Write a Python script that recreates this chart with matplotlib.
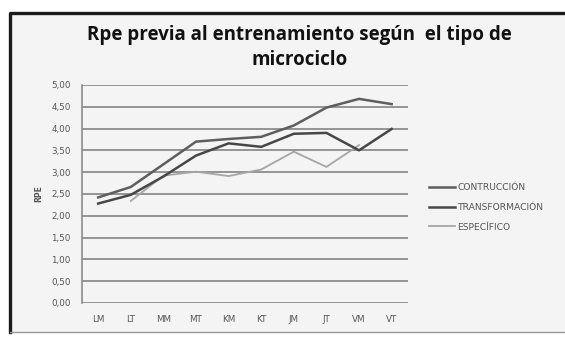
import matplotlib
matplotlib.use("Agg")
import matplotlib.pyplot as plt
from matplotlib.lines import Line2D
import numpy as np

# datos
categorias = ["LM", "LT", "MM", "MT", "KM", "KT", "JM", "JT", "VM", "VT"]
contruccion = [2.42, 2.66, 3.18, 3.70, 3.76, 3.81, 4.07, 4.48, 4.68, 4.56]
transformacion = [2.28, 2.48, 2.90, 3.38, 3.66, 3.58, 3.88, 3.90, 3.50, 3.99]
especifico = [np.nan, 2.34, 2.92, 3.01, 2.91, 3.06, 3.47, 3.12, 3.62, np.nan]
yticks = [0.0, 0.5, 1.0, 1.5, 2.0, 2.5, 3.0, 3.5, 4.0, 4.5, 5.0]

fig = plt.figure(figsize=(5.65, 3.37), dpi=100)
fig.patch.set_facecolor("white")

# marco del grafico
fig.patches.append(plt.Rectangle((0.018, 0.015), 1.0, 0.946, transform=fig.transFigure,
                                 facecolor="#f4f4f4", edgecolor="none", zorder=0))
fig.lines.append(Line2D([0.018, 0.018, 1.0], [0.015, 0.961, 0.961], transform=fig.transFigure,
                        color="#1a1a1a", linewidth=2.4, zorder=0.5))
fig.lines.append(Line2D([0.018, 1.0], [0.015, 0.015], transform=fig.transFigure,
                        color="#9a9a9a", linewidth=1.0, zorder=0.5))

ax = fig.add_axes([0.145, 0.101, 0.577, 0.647])
ax.set_zorder(2)
ax.set_facecolor("#f4f4f4")
x = np.arange(len(categorias))

for y in yticks:
    ax.axhline(y, color="#8c8c8c", linewidth=1.3, zorder=1)

ax.plot(x, especifico, color="#a6a6a6", linewidth=1.3, zorder=2, label="ESPECÍFICO")
ax.plot(x, contruccion, color="#5e5e5e", linewidth=1.8, zorder=3, label="CONTRUCCIÓN")
ax.plot(x, transformacion, color="#474747", linewidth=1.8, zorder=3, label="TRANSFORMACIÓN")

ax.set_xlim(-0.5, len(categorias) - 0.5)
ax.set_ylim(0, 5)
ax.set_xticks(x)
ax.set_xticklabels(categorias, fontsize=6.3, color="#555555")
ax.set_yticks(yticks)
ax.set_yticklabels([f"{v:.2f}".replace(".", ",") for v in yticks], fontsize=6.3, color="#555555")
ax.tick_params(axis="y", length=0, pad=8)
ax.tick_params(axis="x", length=0, pad=9)
for s in ["top", "right", "bottom"]:
    ax.spines[s].set_visible(False)
ax.spines["left"].set_color("#8c8c8c")
ax.spines["left"].set_linewidth(1.2)
ax.set_ylabel("RPE", fontsize=5.5, fontweight="bold", color="#555555", labelpad=6)

handles, labels = ax.get_legend_handles_labels()
orden = [1, 2, 0]
leg = fig.legend([handles[i] for i in orden], [labels[i] for i in orden],
                 loc="upper left", bbox_to_anchor=(0.745, 0.48), frameon=False,
                 fontsize=6.6, handlelength=2.8, handletextpad=0.3, labelspacing=1.15)
leg.set_zorder(3)
for t in leg.get_texts():
    t.set_color("#555555")

fig.text(0.53, 0.86, "Rpe previa al entrenamiento según  el tipo de\nmicrociclo",
         ha="center", va="center", fontsize=13.5, fontweight="bold", linespacing=1.32,
         family=["Open Sans", "DejaVu Sans"], color="#111111", zorder=3)

plt.savefig("out.png", dpi=100)
plt.close()
